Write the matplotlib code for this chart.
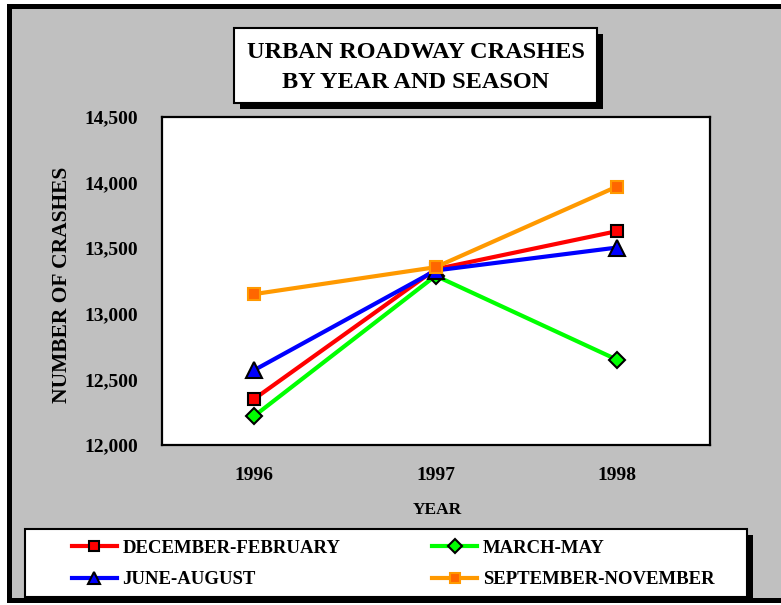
import matplotlib
matplotlib.use("Agg")
import matplotlib.pyplot as plt
from matplotlib.patches import Rectangle
from matplotlib.ticker import FuncFormatter

years = ['1996', '1997', '1998']
dec_feb = [12350, 13340, 13630]
mar_may = [12220, 13290, 12650]
jun_aug = [12570, 13330, 13505]
sep_nov = [13150, 13355, 13970]

W, H = 781, 605
plt.rcParams['font.family'] = ['Liberation Serif', 'DejaVu Serif']
plt.rcParams['font.weight'] = 'bold'

fig = plt.figure(figsize=(W / 100, H / 100), dpi=100, facecolor='white')


def px_rect(x0, y0, x1, y1, **kw):
    # rectangle given in pixel coords (origin top-left)
    r = Rectangle((x0 / W, 1 - y1 / H), (x1 - x0) / W, (y1 - y0) / H,
                  transform=fig.transFigure, figure=fig, **kw)
    fig.patches.append(r)
    return r


# outer gray panel with black frame
px_rect(8.5, 5.5, 800, 599.5, facecolor='#C0C0C0', edgecolor='black', lw=3.6, zorder=0)

# title box with shadow
px_rect(240, 34, 603, 109, facecolor='black', edgecolor='none', zorder=1)
px_rect(234, 28, 597, 103, facecolor='white', edgecolor='black', lw=1.5, zorder=2)
fig.text(415.5 / W, 1 - 53 / H, 'URBAN ROADWAY CRASHES', ha='center', va='center',
         fontsize=17.5, fontweight='bold', zorder=3)
fig.text(415.5 / W, 1 - 83 / H, 'BY YEAR AND SEASON', ha='center', va='center',
         fontsize=17.5, fontweight='bold', zorder=3)

# legend box with shadow
px_rect(31, 535, 753, 602, facecolor='black', edgecolor='none', zorder=1)
px_rect(25, 529, 747, 597, facecolor='white', edgecolor='black', lw=1.5, zorder=2)

ax = fig.add_axes([162 / W, 1 - 445 / H, 548 / W, 328 / H])
ax.set_zorder(4)
ax.set_facecolor('white')
for s in ax.spines.values():
    s.set_linewidth(1.6)

x = list(range(len(years)))
l1, = ax.plot(x, dec_feb, color='#FF0000', lw=3, marker='s', ms=9,
              mfc='#FF0000', mec='black', mew=1.5, label='DECEMBER-FEBRUARY')
l2, = ax.plot(x, mar_may, color='#00FF00', lw=3, marker='D', ms=8,
              mfc='#00FF00', mec='black', mew=1.5, label='MARCH-MAY')
l3, = ax.plot(x, jun_aug, color='#0000FF', lw=3, marker='^', ms=11,
              mfc='#0000FF', mec='black', mew=1.5, label='JUNE-AUGUST')
l4, = ax.plot(x, sep_nov, color='#FF9900', lw=3, marker='s', ms=9,
              mfc='#FF6600', mec='#FF9900', mew=1.5, label='SEPTEMBER-NOVEMBER')

ax.set_xlim(-0.507, 2.512)
ax.set_ylim(12000, 14500)
ax.set_xticks(x, years)
ax.set_yticks([12000, 12500, 13000, 13500, 14000, 14500])
ax.yaxis.set_major_formatter(FuncFormatter(lambda v, p: f'{int(v):,}'))
ax.tick_params(length=0, labelsize=14)
ax.tick_params(axis='y', pad=17)
ax.tick_params(axis='x', pad=16)
for lab in ax.get_xticklabels() + ax.get_yticklabels():
    lab.set_fontweight('bold')

ax.set_xlabel('YEAR', fontsize=12.5, fontweight='bold', va='center')
ax.xaxis.set_label_coords(0.502, -0.198)
ax.set_ylabel('NUMBER OF CRASHES', fontsize=15.5, fontweight='bold', va='center')
ax.yaxis.set_label_coords(-0.1825, 0.488)

# legend filled row by row like the original
leg = fig.legend(handles=[l1, l3, l2, l4], ncol=2, frameon=False,
                 loc='center', bbox_to_anchor=(393 / W, 1 - 564 / H),
                 prop={'weight': 'bold', 'size': 13.5}, handlelength=2.4,
                 handletextpad=0.3, columnspacing=4.9, labelspacing=0.78,
                 markerscale=0.85)
leg.set_zorder(5)

fig.savefig('out.png', dpi=100, facecolor='white')
